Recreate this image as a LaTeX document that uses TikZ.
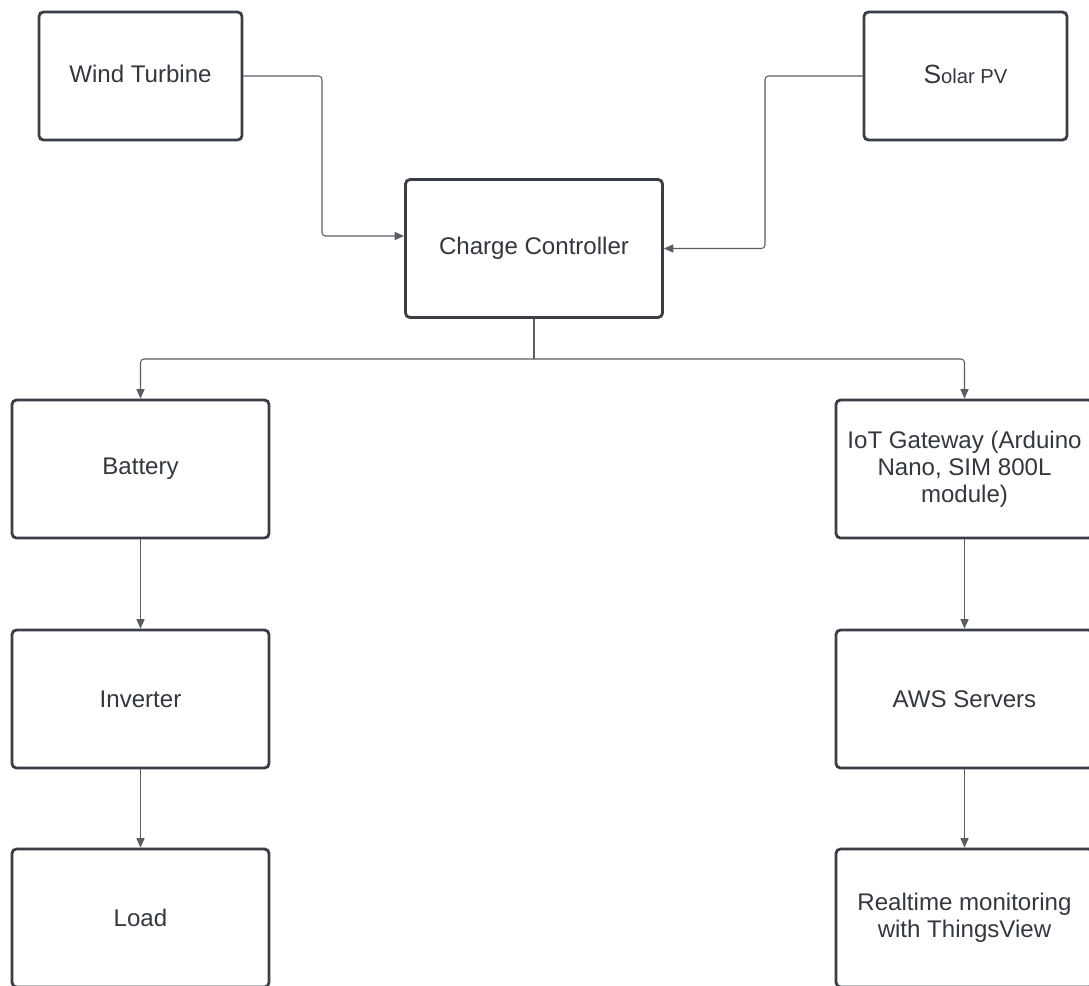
\documentclass[tikz,border=0pt]{standalone}
\usepackage{fontspec}
\setmainfont{Liberation Sans}
\usetikzlibrary{arrows.meta}
\definecolor{boxline}{HTML}{3A3E45}
\definecolor{txtcol}{HTML}{33383E}
\definecolor{linkcol}{HTML}{5A5E63}
\tikzset{
    block/.style={draw=boxline, line width=1.6pt, rounded corners=2.5pt,
        minimum width=5.14cm, minimum height=2.76cm, text=txtcol,
        font=\fontsize{13.7}{15.5}\selectfont, align=center, inner sep=0pt},
    srcblock/.style={block, minimum width=4.06cm, minimum height=2.56cm},
    conn/.style={draw=linkcol, line width=0.6pt, rounded corners=2pt,
        -{Triangle[length=5.4pt,width=4.6pt]}, color=linkcol}
}
\begin{document}
\begin{tikzpicture}[x=0.02cm,y=-0.02cm]
        \useasboundingbox[fill=white] (0,0) rectangle (1089,985);
        % sources
        \node[srcblock] (wind) at (140.5,76) {\raisebox{2.3pt}{Wind Turbine}};
        \node[srcblock] (solar) at (965.5,76) {\raisebox{2.3pt}{{\fontsize{15}{15}\selectfont S}{\fontsize{11.5}{15}\selectfont olar PV}}};
        \node[block] (cc) at (534,248.5) {Charge Controller};
        % power side
        \node[block] (battery) at (140.5,469) {Battery};
        \node[block] (inverter) at (140.5,699) {Inverter};
        \node[block] (load) at (140.5,918) {Load};
        % monitoring side
        \node[block] (iot) at (964.5,469) {IoT Gateway (Arduino\\Nano, SIM 800L\\module)};
        \node[block] (aws) at (964.5,699) {AWS Servers};
        \node[block] (monitor) at (964.5,918) {Realtime monitoring\\with ThingsView};
        % links
        \coordinate (wbend) at (322,236);
        \coordinate (sbend) at (765,248.5);
        \coordinate (split) at (534,359);
        \draw[conn] (wind.east) -| (wbend) -- (wbend -| cc.west);
        \draw[conn] (solar.west) -| (sbend) -- (cc.east);
        \draw[draw=linkcol, line width=0.6pt] (cc.south) -- (split);
        \draw[conn] (split) -| (battery.north);
        \draw[conn] (split) -| (iot.north);
        \draw[conn] (battery.south) -- (inverter.north);
        \draw[conn] (inverter.south) -- (load.north);
        \draw[conn] (iot.south) -- (aws.north);
        \draw[conn] (aws.south) -- (monitor.north);
    \end{tikzpicture}
\end{document}
